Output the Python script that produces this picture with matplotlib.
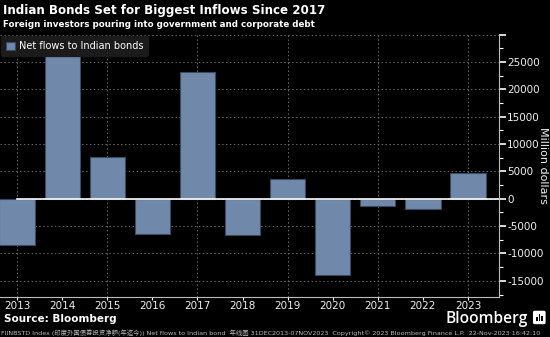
import matplotlib
matplotlib.use("Agg")
import matplotlib.pyplot as plt
from matplotlib.ticker import MultipleLocator, FuncFormatter
from matplotlib.patches import FancyBboxPatch, Rectangle

# ---- Data: net foreign flows into Indian bonds (million USD) ----
years = ["2013", "2014", "2015", "2016", "2017", "2018",
         "2019", "2020", "2021", "2022", "2023"]
net_flows = [-8400, 26300, 7600, -6400, 23100, -6700,
             3600, -13900, -1400, -1900, 4800]

BG = "#000000"
BAR = "#7089aa"
GRID = "#6a6a6a"
TXT = "#f0f0f0"

plt.rcParams["font.family"] = ["DejaVu Sans", "Noto Sans CJK SC"]

fig = plt.figure(figsize=(5.5, 3.37), dpi=100, facecolor=BG)
ax = fig.add_axes([0.0, 0.1196, 0.9067, 0.7774], facecolor=BG)

x = list(range(len(years)))
ax.bar(x, net_flows, width=0.78, color=BAR, edgecolor="#3b4a5e",
       linewidth=0.8, zorder=3, label="Net flows to Indian bonds")

ax.set_xlim(-0.377, 10.68)
ax.set_ylim(-17900, 30000)

# zero line
ax.plot([0, 10.68], [0, 0], color="white", lw=1.2, zorder=4)

# y axis on the right
ax.yaxis.tick_right()
ax.yaxis.set_major_locator(MultipleLocator(5000))
ax.yaxis.set_minor_locator(MultipleLocator(2500))
ax.yaxis.set_major_formatter(FuncFormatter(lambda v, p: "" if v >= 30000 else f"{int(v)}"))
ax.tick_params(axis="y", which="major", colors="white", labelcolor=TXT,
               length=5, width=1.2, labelsize=7.5, pad=1)
ax.tick_params(axis="y", which="minor", colors="white", length=3, width=0.8)
fig.text(0.987, 0.51, "Million dollars", rotation=270, color=TXT,
         fontsize=8, ha="center", va="center")

ax.set_xticks(x)
ax.set_xticklabels(years)
ax.tick_params(axis="x", colors="white", labelcolor=TXT, length=2,
               labelsize=7.5, pad=0.8)

for side in ["top", "left"]:
    ax.spines[side].set_visible(False)
ax.spines["right"].set_color("#bbbbbb")
ax.spines["bottom"].set_color("#bbbbbb")

# dotted grid: every 5000 horizontally, every other year vertically
ax.grid(axis="y", which="major", color=GRID, linestyle=(0, (1.5, 2.5)),
        lw=0.7, zorder=1)
for xi in x[::2]:
    ax.axvline(xi, color=GRID, linestyle=(0, (1.5, 2.5)), lw=0.7, zorder=1)

leg = ax.legend(loc="upper left", bbox_to_anchor=(0.0, 1.0), frameon=True,
                fontsize=7, handlelength=0.9, handleheight=0.9,
                borderpad=0.5, handletextpad=0.4, borderaxespad=0.15)
leg.get_frame().set_facecolor("#1b1b1b")
leg.get_frame().set_edgecolor("#1b1b1b")
leg.get_frame().set_alpha(1)
for t in leg.get_texts():
    t.set_color("white")

# headings
fig.text(0.005, 0.968, "Indian Bonds Set for Biggest Inflows Since 2017",
         color="white", fontsize=8.6, fontweight="bold", va="center")
fig.text(0.005, 0.928, "Foreign investors pouring into government and corporate debt",
         color="white", fontsize=6.3, fontweight="bold", va="center")

# footer
fig.text(0.007, 0.053, "Source: Bloomberg", color="white", fontsize=7.5,
         fontweight="bold", va="center")
fig.text(0.96, 0.053, "Bloomberg", color="white", fontsize=11.2,
         fontfamily="Open Sans", fontweight="semibold", va="center", ha="right")
# small logo mark
fig.patches.append(FancyBboxPatch((0.971, 0.040), 0.019, 0.036,
                                  boxstyle="round,pad=0.002,rounding_size=0.004",
                                  transform=fig.transFigure, fc="white", ec="none"))
for bx, bh in [(0.975, 0.012), (0.9795, 0.02), (0.984, 0.016)]:
    fig.patches.append(Rectangle((bx, 0.047), 0.003, bh, transform=fig.transFigure,
                                 fc="black", ec="none"))
fig.text(0.002, 0.013,
         "FIINBSTD Index (印度外国债券投资净额(年迄今)) Net flows to Indian bond  年线图 "
         "31DEC2013-07NOV2023  Copyright\u00a9 2023 Bloomberg Finance L.P.  22-Nov-2023 16:42:10",
         color="#bbbbbb", fontsize=4.6, va="center")

fig.savefig("out.png", dpi=100, facecolor=BG)
